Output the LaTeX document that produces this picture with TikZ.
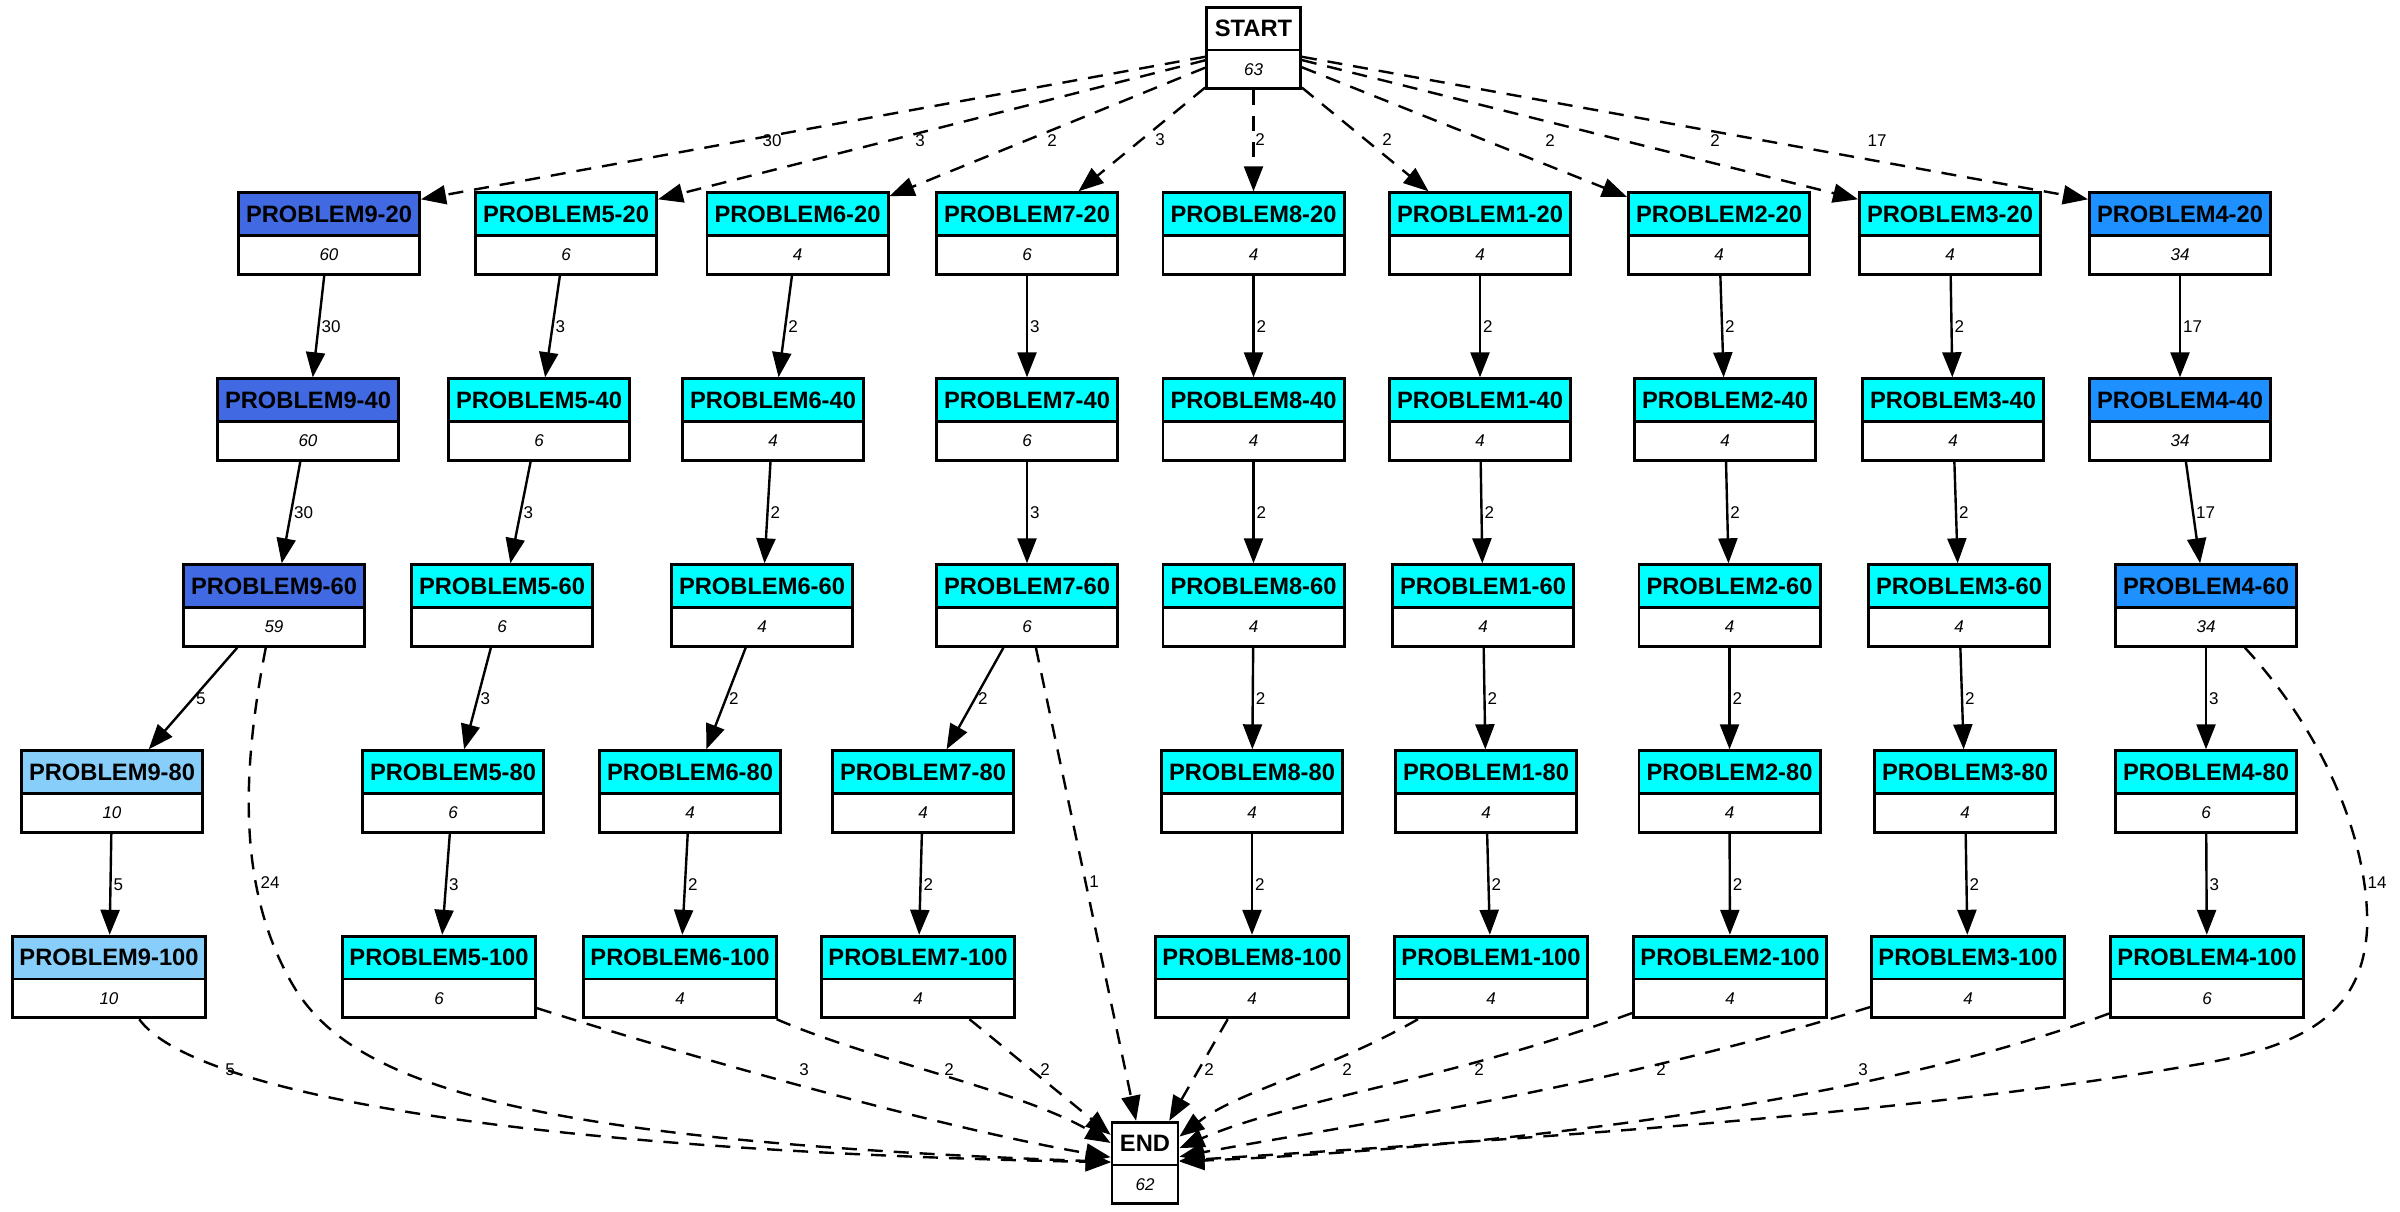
\documentclass[tikz,border=0pt]{standalone}
\usepackage{fontspec}
\setmainfont{Liberation Sans}
\usetikzlibrary{shapes.multipart,arrows.meta,calc}
\definecolor{royal}{HTML}{4169E1}
\definecolor{dodger}{HTML}{1E90FF}
\definecolor{lsky}{HTML}{87CEFA}
\definecolor{cyn}{HTML}{00FFFF}
\newcommand\hdtxt[1]{\rule[-6pt]{0pt}{20pt}{\fontsize{11.85pt}{12pt}\selectfont\bfseries #1}}
\newcommand\bdtxt[1]{\rule[-6pt]{0pt}{18pt}{\fontsize{8.5pt}{10pt}\selectfont\itshape #1}}
\newcommand\pnode[7]{\node[rec={#4}{#5}] (#1) at (#2,#3) {\hdtxt{#6}\nodepart{two}\bdtxt{#7}};}
\tikzset{
  rec/.style 2 args={rectangle split, rectangle split parts=2, draw, line width=1.4pt,
    inner sep=0pt, text width=#1, align=center, rectangle split part fill={#2,white}},
  edg/.style={line width=1.2pt, -{Triangle[length=12.5pt,width=9.5pt]}},
  dedg/.style={edg, dash pattern=on 7.5pt off 5.5pt},
  lbl/.style={font=\fontsize{8.5pt}{10pt}\selectfont, inner sep=0pt},
  vl/.style={lbl, anchor=west, pos=0.5, xshift=1pt}
}
\begin{document}
\begin{tikzpicture}[x=0.5pt,y=-0.5pt]
\useasboundingbox (0,0) rectangle (2400,1211);
% START / END
\pnode{pstart}{1253.5}{48}{47pt}{white}{START}{63}
\pnode{pend}{1145}{1163}{33pt}{white}{END}{62}
% row 1
\pnode{p9-20}{329}{233.5}{90.6pt}{royal}{PROBLEM9-20}{60}
\pnode{p5-20}{566}{233.5}{90.6pt}{cyn}{PROBLEM5-20}{6}
\pnode{p6-20}{797.5}{233.5}{90.6pt}{cyn}{PROBLEM6-20}{4}
\pnode{p7-20}{1027}{233.5}{90.6pt}{cyn}{PROBLEM7-20}{6}
\pnode{p8-20}{1253.5}{233.5}{90.6pt}{cyn}{PROBLEM8-20}{4}
\pnode{p1-20}{1480}{233.5}{90.6pt}{cyn}{PROBLEM1-20}{4}
\pnode{p2-20}{1719}{233.5}{90.6pt}{cyn}{PROBLEM2-20}{4}
\pnode{p3-20}{1950}{233.5}{90.6pt}{cyn}{PROBLEM3-20}{4}
\pnode{p4-20}{2180}{233.5}{90.6pt}{dodger}{PROBLEM4-20}{34}
% row 2
\pnode{p9-40}{308}{419.5}{90.6pt}{royal}{PROBLEM9-40}{60}
\pnode{p5-40}{539}{419.5}{90.6pt}{cyn}{PROBLEM5-40}{6}
\pnode{p6-40}{773}{419.5}{90.6pt}{cyn}{PROBLEM6-40}{4}
\pnode{p7-40}{1027}{419.5}{90.6pt}{cyn}{PROBLEM7-40}{6}
\pnode{p8-40}{1253.5}{419.5}{90.6pt}{cyn}{PROBLEM8-40}{4}
\pnode{p1-40}{1480}{419.5}{90.6pt}{cyn}{PROBLEM1-40}{4}
\pnode{p2-40}{1725}{419.5}{90.6pt}{cyn}{PROBLEM2-40}{4}
\pnode{p3-40}{1953}{419.5}{90.6pt}{cyn}{PROBLEM3-40}{4}
\pnode{p4-40}{2180}{419.5}{90.6pt}{dodger}{PROBLEM4-40}{34}
% row 3
\pnode{p9-60}{274}{605.5}{90.6pt}{royal}{PROBLEM9-60}{59}
\pnode{p5-60}{502}{605.5}{90.6pt}{cyn}{PROBLEM5-60}{6}
\pnode{p6-60}{762}{605.5}{90.6pt}{cyn}{PROBLEM6-60}{4}
\pnode{p7-60}{1027}{605.5}{90.6pt}{cyn}{PROBLEM7-60}{6}
\pnode{p8-60}{1253.5}{605.5}{90.6pt}{cyn}{PROBLEM8-60}{4}
\pnode{p1-60}{1483}{605.5}{90.6pt}{cyn}{PROBLEM1-60}{4}
\pnode{p2-60}{1729.5}{605.5}{90.6pt}{cyn}{PROBLEM2-60}{4}
\pnode{p3-60}{1959}{605.5}{90.6pt}{cyn}{PROBLEM3-60}{4}
\pnode{p4-60}{2206}{605.5}{90.6pt}{dodger}{PROBLEM4-60}{34}
% row 4
\pnode{p9-80}{112}{791.5}{90.6pt}{lsky}{PROBLEM9-80}{10}
\pnode{p5-80}{453}{791.5}{90.6pt}{cyn}{PROBLEM5-80}{6}
\pnode{p6-80}{690}{791.5}{90.6pt}{cyn}{PROBLEM6-80}{4}
\pnode{p7-80}{923}{791.5}{90.6pt}{cyn}{PROBLEM7-80}{4}
\pnode{p8-80}{1252}{791.5}{90.6pt}{cyn}{PROBLEM8-80}{4}
\pnode{p1-80}{1486}{791.5}{90.6pt}{cyn}{PROBLEM1-80}{4}
\pnode{p2-80}{1729.5}{791.5}{90.6pt}{cyn}{PROBLEM2-80}{4}
\pnode{p3-80}{1965}{791.5}{90.6pt}{cyn}{PROBLEM3-80}{4}
\pnode{p4-80}{2206}{791.5}{90.6pt}{cyn}{PROBLEM4-80}{6}
% row 5
\pnode{p9-100}{109}{977}{96.6pt}{lsky}{PROBLEM9-100}{10}
\pnode{p5-100}{439}{977}{96.6pt}{cyn}{PROBLEM5-100}{6}
\pnode{p6-100}{680}{977}{96.6pt}{cyn}{PROBLEM6-100}{4}
\pnode{p7-100}{918}{977}{96.6pt}{cyn}{PROBLEM7-100}{4}
\pnode{p8-100}{1252}{977}{96.6pt}{cyn}{PROBLEM8-100}{4}
\pnode{p1-100}{1491}{977}{96.6pt}{cyn}{PROBLEM1-100}{4}
\pnode{p2-100}{1730}{977}{96.6pt}{cyn}{PROBLEM2-100}{4}
\pnode{p3-100}{1968}{977}{96.6pt}{cyn}{PROBLEM3-100}{4}
\pnode{p4-100}{2207}{977}{96.6pt}{cyn}{PROBLEM4-100}{6}
% START edges
\draw[dedg] (pstart) -- ($(p9-20.north east)+(0,8)$) node[lbl] at (772,141) {30};
\draw[dedg] (pstart) -- ($(p5-20.north east)+(0,8)$) node[lbl] at (920,141) {3};
\draw[dedg] (pstart) -- (p6-20) node[lbl] at (1052,141) {2};
\draw[dedg] (pstart) -- (p7-20) node[lbl] at (1160,140) {3};
\draw[dedg] (pstart) -- (p8-20) node[lbl] at (1260,140) {2};
\draw[dedg] (pstart) -- (p1-20) node[lbl] at (1387,140) {2};
\draw[dedg] (pstart) -- (p2-20) node[lbl] at (1550,141) {2};
\draw[dedg] (pstart) -- ($(p3-20.north west)+(0,8)$) node[lbl] at (1715,141) {2};
\draw[dedg] (pstart) -- ($(p4-20.north west)+(0,8)$) node[lbl] at (1877,141) {17};
% column 9
\draw[edg] (p9-20) -- node[vl] {30} (p9-40);
\draw[edg] (p9-40) -- node[vl] {30} (p9-60);
\draw[edg] (p9-60) -- node[vl] {5} (p9-80);
\draw[edg] (p9-80) -- node[vl] {5} (p9-100);
% column 5
\draw[edg] (p5-20) -- node[vl] {3} (p5-40);
\draw[edg] (p5-40) -- node[vl] {3} (p5-60);
\draw[edg] (p5-60) -- node[vl] {3} (p5-80);
\draw[edg] (p5-80) -- node[vl] {3} (p5-100);
% column 6
\draw[edg] (p6-20) -- node[vl] {2} (p6-40);
\draw[edg] (p6-40) -- node[vl] {2} (p6-60);
\draw[edg] (p6-60) -- node[vl] {2} (p6-80);
\draw[edg] (p6-80) -- node[vl] {2} (p6-100);
% column 7
\draw[edg] (p7-20) -- node[vl] {3} (p7-40);
\draw[edg] (p7-40) -- node[vl] {3} (p7-60);
\draw[edg] (p7-60) -- node[vl] {2} (p7-80);
\draw[edg] (p7-80) -- node[vl] {2} (p7-100);
% column 8
\draw[edg] (p8-20) -- node[vl] {2} (p8-40);
\draw[edg] (p8-40) -- node[vl] {2} (p8-60);
\draw[edg] (p8-60) -- node[vl] {2} (p8-80);
\draw[edg] (p8-80) -- node[vl] {2} (p8-100);
% column 1
\draw[edg] (p1-20) -- node[vl] {2} (p1-40);
\draw[edg] (p1-40) -- node[vl] {2} (p1-60);
\draw[edg] (p1-60) -- node[vl] {2} (p1-80);
\draw[edg] (p1-80) -- node[vl] {2} (p1-100);
% column 2
\draw[edg] (p2-20) -- node[vl] {2} (p2-40);
\draw[edg] (p2-40) -- node[vl] {2} (p2-60);
\draw[edg] (p2-60) -- node[vl] {2} (p2-80);
\draw[edg] (p2-80) -- node[vl] {2} (p2-100);
% column 3
\draw[edg] (p3-20) -- node[vl] {2} (p3-40);
\draw[edg] (p3-40) -- node[vl] {2} (p3-60);
\draw[edg] (p3-60) -- node[vl] {2} (p3-80);
\draw[edg] (p3-80) -- node[vl] {2} (p3-100);
% column 4
\draw[edg] (p4-20) -- node[vl] {17} (p4-40);
\draw[edg] (p4-40) -- node[vl] {17} (p4-60);
\draw[edg] (p4-60) -- node[vl] {3} (p4-80);
\draw[edg] (p4-80) -- node[vl] {3} (p4-100);
% edges to END
\draw[dedg] (p9-100) .. controls (190,1090) and (500,1150) .. (pend) node[lbl] at (230,1070) {5};
\draw[dedg] (p9-60) .. controls (240,780) and (240,890) .. (290,980) .. controls (345,1080) and (500,1140) .. (pend) node[lbl] at (270,883) {24};
\draw[dedg] (p5-100) .. controls (700,1060) and (950,1130) .. (pend) node[lbl] at (804,1070) {3};
\draw[dedg] (p6-100) .. controls (870,1060) and (1020,1090) .. (pend) node[lbl] at (949,1070) {2};
\draw[dedg] (p7-100) -- (pend) node[lbl] at (1045,1070) {2};
\draw[dedg] (p7-60) -- (pend) node[lbl] at (1094,882) {1};
\draw[dedg] (p8-100) -- (pend) node[lbl] at (1209,1070) {2};
\draw[dedg] (p1-100) .. controls (1330,1070) and (1240,1090) .. (pend) node[lbl] at (1347,1070) {2};
\draw[dedg] (p2-100) .. controls (1450,1080) and (1290,1100) .. (pend) node[lbl] at (1479,1070) {2};
\draw[dedg] (p3-100) .. controls (1600,1090) and (1350,1125) .. (pend) node[lbl] at (1661,1070) {2};
\draw[dedg] (p4-100) .. controls (1850,1110) and (1450,1150) .. (pend) node[lbl] at (1863,1070) {3};
\draw[dedg] (p4-60) .. controls (2330,740) and (2370,850) .. (2367,930) .. controls (2362,1010) and (2310,1045) .. (2200,1064) .. controls (1900,1116) and (1500,1140) .. (pend) node[lbl] at (2377,883) {14};
\end{tikzpicture}
\end{document}
